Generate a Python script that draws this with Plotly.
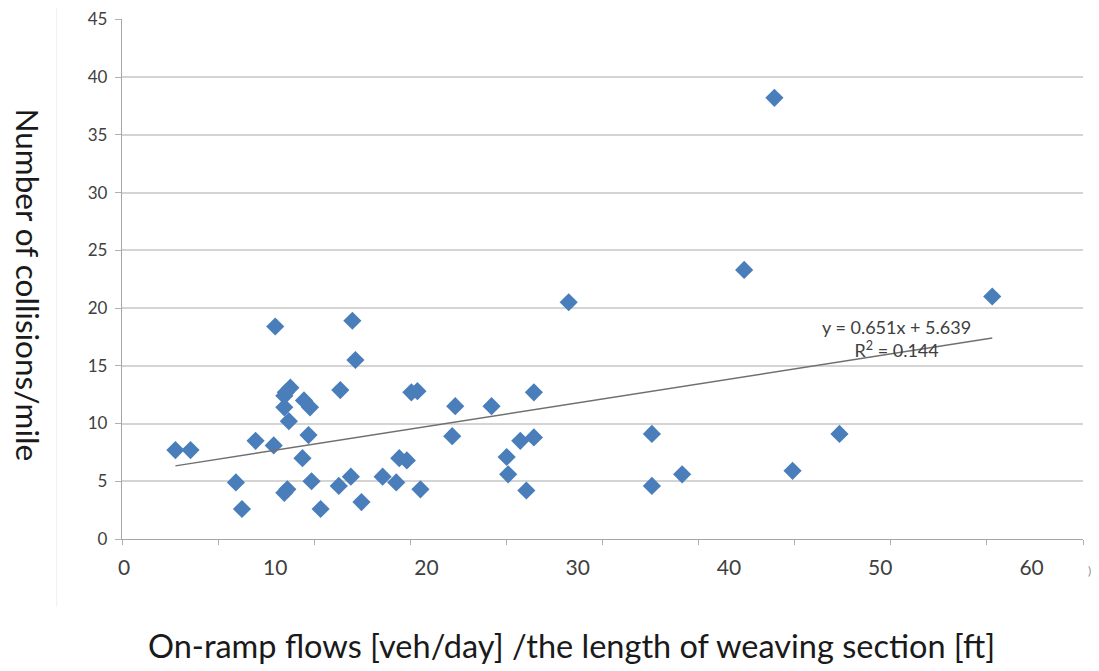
import plotly.graph_objects as go

# on-ramp flow per weaving length vs collisions/mile
flow_ratio = [3.4, 4.4, 7.4, 7.8, 8.7, 9.9, 10.0, 10.6, 10.6, 10.9, 11.0, 10.7,
              10.6, 10.8, 11.8, 12.2, 11.9, 12.3, 12.4, 13.0, 14.2, 14.3,
              15.0, 15.1, 15.3, 15.7, 17.1, 18.0, 18.2, 18.7, 19.6, 19.0,
              19.4, 21.7, 21.9, 24.3, 25.3, 25.4, 26.2, 27.1, 27.1, 26.6, 29.4,
              34.9, 34.9, 36.9, 41.0, 43.0, 44.2, 47.3, 57.4]
collisions = [7.7, 7.7, 4.9, 2.6, 8.5, 8.1, 18.4, 12.4, 11.4, 10.2, 13.1, 12.7,
              4.0, 4.3, 7.0, 9.0, 12.0, 11.4, 5.0, 2.6, 4.6, 12.9,
              5.4, 18.9, 15.5, 3.2, 5.4, 4.9, 7.0, 6.8, 4.3, 12.7,
              12.8, 8.9, 11.5, 11.5, 7.1, 5.6, 8.5, 8.8, 12.7, 4.2, 20.5,
              9.1, 4.6, 5.6, 23.3, 38.2, 5.9, 9.1, 21.0]
# trend line as drawn on the chart (slope in plotted units, intercept from label)
trend_slope = 0.205
trend_icpt = 5.639
eq_text = "y = 0.651x + 5.639<br>R<sup>2</sup> = 0.144"

x_ticks = [0, 10, 20, 30, 40, 50, 60]
y_ticks = [0, 5, 10, 15, 20, 25, 30, 35, 40, 45]

grey_txt = "#404040"
grid_col = "#d4d4d4"
font = "Lato"

tx = [min(flow_ratio), max(flow_ratio)]
ty = [trend_slope * v + trend_icpt for v in tx]

fig = go.Figure()
fig.add_trace(go.Scatter(x=flow_ratio, y=collisions, mode="markers",
    marker=dict(symbol="diamond", size=14, color="#4a7ebb"),
    showlegend=False))
fig.add_trace(go.Scatter(x=tx, y=ty, mode="lines",
    line=dict(color="#707070", width=1.4), showlegend=False))
# dummy trace for the tick-mark axis along the bottom
fig.add_trace(go.Scatter(x=[0], y=[0], xaxis="x2", mode="markers",
    marker=dict(opacity=0), showlegend=False, hoverinfo="skip"))

# page body adds 8px, so the figure is a bit smaller than the window
fig.update_layout(
    width=1083, height=663,
    margin=dict(l=114, r=8, t=11, b=132),
    paper_bgcolor="white", plot_bgcolor="white",
    font=dict(family=font, color=grey_txt),
    xaxis=dict(range=[-0.13, 63.4], tickvals=x_ticks, showgrid=False,
        zeroline=False, showline=True, linecolor="#a6a6a6", linewidth=1.3,
        ticks="", tickfont=dict(size=21, color=grey_txt),
        ticklabelstandoff=10, automargin=False),
    xaxis2=dict(range=[0, 10], dtick=1, overlaying="x", showgrid=False,
        zeroline=False, showticklabels=False, ticks="outside", ticklen=5,
        tickcolor="#b0b0b0", side="bottom", automargin=False),
    yaxis=dict(range=[0, 45.03], tickvals=y_ticks, showgrid=True,
        gridcolor=grid_col, gridwidth=1.5, zeroline=False, showline=True,
        linecolor="#a6a6a6", linewidth=1.3, ticks="outside", ticklen=6,
        tickcolor="#b0b0b0", tickfont=dict(size=17, color=grey_txt),
        ticklabelstandoff=4, automargin=False),
)

fig.add_annotation(x=51.1, y=17.4, text=eq_text, showarrow=False,
    font=dict(size=18, color=grey_txt, family=font), align="center")
fig.add_annotation(xref="paper", yref="paper", x=0.468, y=-0.204,
    xanchor="center", yanchor="middle",
    text="On-ramp flows [veh/day] /the length of weaving section [ft]",
    showarrow=False, font=dict(size=32.5, color="#1a1a1a", family=font))
fig.add_annotation(xref="paper", yref="paper", x=-0.098, y=0.488,
    xanchor="center", yanchor="middle",
    text="Number of collisions/mile", textangle=90, showarrow=False,
    font=dict(size=31.5, color="#1a1a1a", family=font))
fig.add_annotation(xref="paper", yref="paper", x=1.007, y=-0.06,
    xanchor="center", yanchor="middle",
    text=")", showarrow=False, font=dict(size=12, color="#909090", family=font))

# faint frame edge on the left of the original image
fig.add_shape(type="line", xref="paper", yref="paper", x0=-0.068, x1=-0.068,
    y0=-0.13, y1=1.04, line=dict(color="#f0f0f0", width=1))

fig.write_html("out.html")
